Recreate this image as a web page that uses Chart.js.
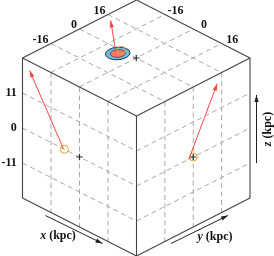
<!DOCTYPE html>
<html>
<head>
<meta charset="utf-8">
<style>
  html, body { margin: 0; padding: 0; background: #fff; overflow: hidden; }
  canvas { display: block; }
</style>
<script src="https://cdn.jsdelivr.net/npm/chart.js@4/dist/chart.umd.min.js"></script>
</head>
<body>
<canvas id="cubo" width="274" height="256"></canvas>
<script>
// valores en kpc
const limiteXY = 32;
const limiteZ = 22;
const ticksXY = [-16, 0, 16];
const ticksZ = [11, 0, -11];
const centroGalactico = [0, 0, 0];
const posicionSol = [-8.5, 0, 0];
const origenFlecha = [-9, -2.5, 0];
const puntaFlecha = [-28, 13.5, 19.2];
const centroElipses = [-7.7, -2.7];
const radiosElipses = [4.9, 3];

// proyeccion de la caja a la pantalla
function superior(x, y) {
  const u = (x + limiteXY) / (2 * limiteXY);
  const v = (y + limiteXY) / (2 * limiteXY);
  return { x: 22.5 + 114 * v + 113.5 * u, y: 58 - 58 * v + 58 * u };
}
function caraX(x, z) {
  const u = (x + limiteXY) / (2 * limiteXY);
  return { x: 22.5 + 114 * u, y: 128 + 58 * u - z * 70 / limiteZ };
}
function caraY(y, z) {
  const v = (y + limiteXY) / (2 * limiteXY);
  return { x: 136.5 + 113.5 * v, y: 186 - 58 * v - z * 70 / limiteZ };
}

function linea(a, b, color, ancho, guiones) {
  return {
    data: [a, b], showLine: true, borderColor: color, borderWidth: ancho,
    borderDash: guiones || [], pointRadius: 0, borderCapStyle: 'butt'
  };
}
function marca(p, estilo, radio, color, ancho) {
  return {
    data: [p], pointStyle: estilo, pointRadius: radio, borderWidth: ancho,
    pointBorderColor: color, pointBackgroundColor: 'transparent', borderColor: color
  };
}
function flecha(a, b, color) {
  const d = linea(a, b, color, 1);
  d.punta = { largo: 7, ancho: 2.2 };
  return d;
}

const colorRejilla = '#a8a8a8';
const guiones = [5, 3.5];
const rejilla = [];
ticksXY.forEach(t => {
  rejilla.push(linea(superior(t, -limiteXY), superior(t, limiteXY), colorRejilla, 1, guiones));
  rejilla.push(linea(superior(-limiteXY, t), superior(limiteXY, t), colorRejilla, 1, guiones));
  rejilla.push(linea(caraX(t, limiteZ), caraX(t, -limiteZ), colorRejilla, 1, guiones));
  rejilla.push(linea(caraY(t, limiteZ), caraY(t, -limiteZ), colorRejilla, 1, guiones));
});
ticksZ.forEach(t => {
  rejilla.push(linea(caraX(-limiteXY, t), caraX(limiteXY, t), colorRejilla, 1, guiones));
  rejilla.push(linea(caraY(-limiteXY, t), caraY(limiteXY, t), colorRejilla, 1, guiones));
});

const colorCaja = '#444444';
const L = limiteXY, Z = limiteZ;
const caja = [
  [caraX(-L, Z), caraX(L, Z)], [caraX(L, Z), caraY(L, Z)],
  [caraY(L, Z), superior(-L, L)], [superior(-L, L), caraX(-L, Z)],
  [caraX(-L, Z), caraX(-L, -Z)], [caraX(L, Z), caraX(L, -Z)], [caraY(L, Z), caraY(L, -Z)],
  [caraX(-L, -Z), caraX(L, -Z)], [caraX(L, -Z), caraY(L, -Z)]
].map(s => linea(s[0], s[1], colorCaja, 1.1));

const rojo = '#ff4444';
const naranja = '#e8a33a';
const gris = '#333333';
const datasets = [
  flecha(superior(origenFlecha[0], origenFlecha[1]), superior(puntaFlecha[0], puntaFlecha[1]), rojo),
  flecha(caraX(origenFlecha[0], origenFlecha[2]), caraX(puntaFlecha[0], puntaFlecha[2]), rojo),
  flecha(caraY(origenFlecha[1], origenFlecha[2]), caraY(puntaFlecha[1], puntaFlecha[2]), rojo),
  marca(superior(posicionSol[0], posicionSol[1]), 'circle', 4, naranja, 1),
  marca(caraX(posicionSol[0], posicionSol[2]), 'circle', 4, naranja, 1),
  marca(caraY(posicionSol[1], posicionSol[2]), 'circle', 4, naranja, 1),
  marca(superior(centroGalactico[0], centroGalactico[1]), 'cross', 3.2, gris, 1.2),
  marca(caraX(centroGalactico[0], centroGalactico[2]), 'cross', 3.2, gris, 1.2),
  marca(caraY(centroGalactico[1], centroGalactico[2]), 'cross', 3.2, gris, 1.2)
];
caja.forEach(d => datasets.push(d));
rejilla.forEach(d => datasets.push(d));

// flechas de los ejes, van sobre la misma escala de pantalla
datasets.push(flecha({ x: 45.5, y: 215.5 }, { x: 102.5, y: 243.5 }, '#222222'));
datasets.push(flecha({ x: 171, y: 243.5 }, { x: 228, y: 215.5 }, '#222222'));
datasets.push(flecha({ x: 256.5, y: 163 }, { x: 256.5, y: 95 }, '#222222'));

// las elipses van bajo las flechas y sobre la rejilla
const pluginElipses = {
  id: 'elipses',
  beforeDatasetDraw(chart, args) {
    if (args.index !== 5) return;
    const ctx = chart.ctx;
    const c = superior(centroElipses[0], centroElipses[1]);
    const px = chart.scales.x.getPixelForValue(c.x);
    const py = chart.scales.y.getPixelForValue(c.y);
    const estilos = [['#6fbfe0', '#1a3050'], ['#f47a68', '#7a4a4a']];
    radiosElipses.forEach((r, i) => {
      ctx.save();
      ctx.beginPath();
      ctx.ellipse(px, py, r * 2.51, r * 1.28, -0.07, 0, Math.PI * 2);
      ctx.fillStyle = estilos[i][0];
      ctx.strokeStyle = estilos[i][1];
      ctx.lineWidth = 1;
      ctx.fill();
      ctx.stroke();
      ctx.restore();
    });
  }
};

const pluginPuntas = {
  id: 'puntas',
  afterDatasetsDraw(chart) {
    const ctx = chart.ctx;
    chart.data.datasets.forEach((d, i) => {
      if (!d.punta) return;
      const pts = chart.getDatasetMeta(i).data;
      const a = pts[0], b = pts[1];
      const ang = Math.atan2(b.y - a.y, b.x - a.x);
      ctx.save();
      ctx.translate(b.x, b.y);
      ctx.rotate(ang);
      ctx.beginPath();
      ctx.moveTo(0, 0);
      ctx.lineTo(-d.punta.largo, d.punta.ancho);
      ctx.lineTo(-d.punta.largo, -d.punta.ancho);
      ctx.closePath();
      ctx.fillStyle = d.borderColor;
      ctx.fill();
      ctx.restore();
    });
  }
};

const fuenteBold = 'bold 12px "Liberation Serif"';
const fuenteCursiva = 'italic bold 12px "Liberation Serif"';

function tituloEje(ctx, letra, x, y, rotar) {
  ctx.save();
  ctx.translate(x, y);
  if (rotar) ctx.rotate(-Math.PI / 2);
  ctx.font = fuenteCursiva;
  const a = ctx.measureText(letra).width;
  ctx.font = fuenteBold;
  const b = ctx.measureText(' (kpc)').width;
  ctx.textAlign = 'left';
  ctx.textBaseline = 'middle';
  ctx.font = fuenteCursiva;
  ctx.fillText(letra, -(a + b) / 2, 0);
  ctx.font = fuenteBold;
  ctx.fillText(' (kpc)', -(a + b) / 2 + a, 0);
  ctx.restore();
}

const pluginTextos = {
  id: 'textos',
  afterDraw(chart) {
    const ctx = chart.ctx;
    ctx.save();
    ctx.fillStyle = '#111111';
    ctx.font = fuenteBold;
    ctx.textBaseline = 'middle';
    ctx.textAlign = 'right';
    ticksXY.forEach(t => {
      const p = superior(-limiteXY, t);
      ctx.fillText(String(t), p.x - 2.5, p.y - 4);
    });
    ticksZ.forEach(t => {
      const p = caraX(-limiteXY, t);
      ctx.fillText(String(t), 16.8, p.y);
    });
    ctx.textAlign = 'center';
    ticksXY.forEach(t => {
      const p = superior(t, limiteXY);
      ctx.fillText(String(t), p.x + 10.7, p.y - 4);
    });
    tituloEje(ctx, 'x', 58, 236);
    tituloEje(ctx, 'y', 215, 237);
    tituloEje(ctx, 'z', 268, 129, true);
    ctx.restore();
  }
};

new Chart(document.getElementById('cubo'), {
  type: 'scatter',
  data: { datasets },
  plugins: [pluginElipses, pluginPuntas, pluginTextos],
  options: {
    responsive: false,
    animation: false,
    events: [],
    layout: { padding: 0, autoPadding: false },
    plugins: { legend: { display: false }, tooltip: { enabled: false } },
    scales: {
      x: { type: 'linear', display: false, min: 0, max: 274 },
      y: { type: 'linear', display: false, min: 0, max: 256, reverse: true }
    }
  }
});
</script>
</body>
</html>
